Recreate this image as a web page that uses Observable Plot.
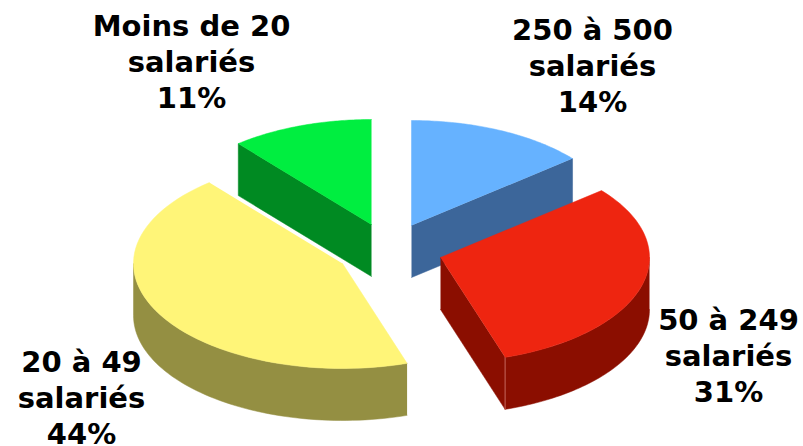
<!DOCTYPE html>
<html lang="fr">
<head>
<meta charset="utf-8">
<script src="https://cdn.jsdelivr.net/npm/d3@7"></script>
<script src="https://cdn.jsdelivr.net/npm/@observablehq/plot@0.6"></script>
<style>html,body{margin:0;padding:0;background:#fff}svg{display:block}</style>
</head>
<body>
<div id="chart"></div>
<script>
// Data, clockwise from 12 o'clock
const categories = ["250 à 500\nsalariés", "50 à 249\nsalariés", "20 à 49\nsalariés", "Moins de 20\nsalariés"];
const shares = [14, 31, 44, 11];

// Styles
const topColors = ["#66b2ff", "#ee2510", "#fff578", "#00ee40"];
const sideColors = ["#3c669a", "#8b0e00", "#948f42", "#008a22"];

// Layout (in pixel-like scale units)
const apexX = [411, 440, 342, 371];
const apexY = [225, 257, 263, 224];
const labelX = [592, 728, 81, 191];
const labelY = [64, 354, 396, 60];
const radiusX = 209, radiusY = 105, depth = 52;
const drawOrder = [3, 0, 2, 1];

const total = d3.sum(shares);
const cumulative = d3.cumsum(shares);
const rim = (i, a, dy = 0) => ({
  x: apexX[i] + radiusX * Math.sin(a),
  y: apexY[i] - radiusY * Math.cos(a) + dy
});
const arcPts = (i, a0, a1, dy = 0) =>
  d3.range(65).map(k => rim(i, a0 + (a1 - a0) * k / 64, dy));

const marks = [];
for (const i of drawOrder) {
  const a1 = cumulative[i] / total * 2 * Math.PI;
  const a0 = a1 - shares[i] / total * 2 * Math.PI;
  const apex = {x: apexX[i], y: apexY[i]};
  const low = {x: apexX[i], y: apexY[i] + depth};
  const faces = [];
  // flat cut faces that look toward the viewer
  if (i === 0 || i === 1) faces.push([apex, rim(i, a1), rim(i, a1, depth), low]);
  if (i === 3) faces.push([apex, rim(i, a0), rim(i, a0, depth), low]);
  // curved outer wall (front half only)
  const wall0 = Math.max(a0, Math.PI / 2), wall1 = Math.min(a1, 3 * Math.PI / 2);
  if (wall1 > wall0) faces.push([...arcPts(i, wall0, wall1), ...arcPts(i, wall1, wall0, depth)]);
  for (const pts of faces) {
    marks.push(Plot.line(pts, {x: "x", y: "y", fill: sideColors[i], stroke: sideColors[i], strokeWidth: 0.5, curve: "linear"}));
  }
  // pale seam where the red slice's two walls meet
  if (i === 1) {
    marks.push(Plot.line([rim(i, a1), rim(i, a1, depth)], {x: "x", y: "y", stroke: "#c4675c", strokeWidth: 1}));
  }
  marks.push(Plot.line([apex, ...arcPts(i, a0, a1)], {x: "x", y: "y", fill: topColors[i], stroke: topColors[i], strokeWidth: 0.5, curve: "linear"}));
}

marks.push(Plot.text(categories.map((c, i) => `${c}\n${shares[i]}%`), {
  x: (_, i) => labelX[i],
  y: (_, i) => labelY[i],
  text: d => d,
  fontFamily: "DejaVu Sans",
  fontWeight: "bold",
  fontSize: 29,
  lineHeight: 1.241,
  fill: "#000",
  textAnchor: "middle"
}));

const chart = Plot.plot({
  width: 803,
  height: 446,
  margin: 0,
  x: {domain: [0, 803], range: [0, 803], axis: null},
  y: {domain: [0, 446], range: [0, 446], axis: null},
  marks
});
document.getElementById("chart").append(chart);
</script>
</body>
</html>
